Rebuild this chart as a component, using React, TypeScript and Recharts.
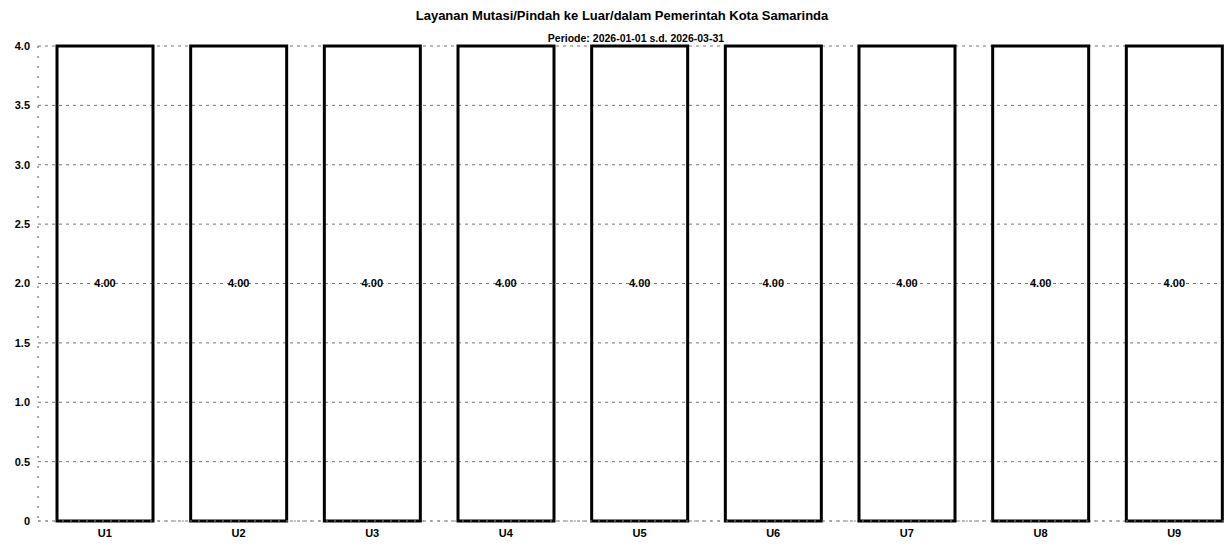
import { BarChart, Bar, XAxis, YAxis, CartesianGrid, LabelList } from "recharts";

const units = ["U1", "U2", "U3", "U4", "U5", "U6", "U7", "U8", "U9"];
const scores = [4.0, 4.0, 4.0, 4.0, 4.0, 4.0, 4.0, 4.0, 4.0];
const yTicks = [0, 0.5, 1.0, 1.5, 2.0, 2.5, 3.0, 3.5, 4.0];

const chartTitle = "Layanan Mutasi/Pindah ke Luar/dalam Pemerintah Kota Samarinda";
const chartSubtitle = "Periode: 2026-01-01 s.d. 2026-03-31";

const data = units.map((u, i) => ({ unit: u, score: scores[i] }));

const font = "'Liberation Sans', Arial, sans-serif";

export default function App() {
  return (
    <div
      style={{
        position: "fixed",
        top: 0,
        left: 0,
        width: 1225,
        height: 550,
        overflow: "hidden",
        background: "#fff",
        fontFamily: font,
      }}
    >
      <div
        style={{
          position: "absolute",
          top: 8,
          left: 0,
          width: 1244,
          textAlign: "center",
          fontSize: 13,
          fontWeight: "bold",
        }}
      >
        {chartTitle}
      </div>
      <div
        style={{
          position: "absolute",
          top: 32,
          left: 0,
          width: 1272,
          textAlign: "center",
          fontSize: 10.5,
          fontWeight: "bold",
        }}
      >
        {chartSubtitle}
      </div>
      <BarChart
        width={1241}
        height={550}
        data={data}
        margin={{ top: 46, right: 0, left: 0, bottom: 0 }}
        barSize={96}
      >
        <CartesianGrid vertical={false} stroke="#777" strokeDasharray="3 4" />
        <XAxis
          dataKey="unit"
          axisLine={{ stroke: "#888", strokeDasharray: "2 6" }}
          tickLine={false}
          height={29}
          tick={{ fontSize: 11, fontWeight: "bold", fill: "#000", fontFamily: font }}
        />
        <YAxis
          domain={[0, 4]}
          ticks={yTicks}
          width={38}
          axisLine={{ stroke: "#555", strokeDasharray: "2 8" }}
          tickLine={false}
          tickFormatter={(v) => (Number(v) === 0 ? "0" : Number(v).toFixed(1))}
          tick={{ fontSize: 11, fontWeight: "bold", fill: "#000", fontFamily: font }}
        />
        <Bar
          dataKey="score"
          fill="rgba(255,255,255,0)"
          stroke="#000"
          strokeWidth={3}
          isAnimationActive={false}
        >
          <LabelList
            dataKey="score"
            position="center"
            formatter={(v: any) => Number(v).toFixed(2)}
            style={{ fontSize: 11, fontWeight: "bold", fill: "#000", fontFamily: font }}
          />
        </Bar>
      </BarChart>
    </div>
  );
}
